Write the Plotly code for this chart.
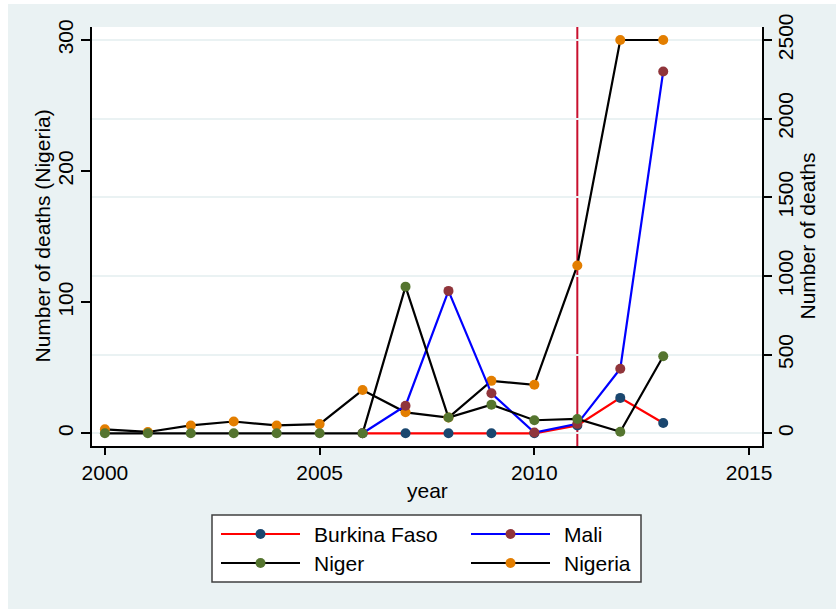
import plotly.graph_objects as go

# Annual conflict deaths by country
years = list(range(2000, 2014))
years_bf_mali = list(range(2006, 2014))

nigeria = [3, 1, 6, 9, 6, 7, 33, 16, 12, 40, 37, 128, 300, 300]          # left axis
niger = [0, 0, 0, 0, 0, 0, 0, 932, 100, 182, 83, 91, 10, 490]             # right axis
mali = [0, 175, 905, 254, 5, 60, 410, 2300]                               # right axis
burkina_faso = [0, 0, 0, 0, 0, 50, 225, 65]                               # right axis

left_ticks = [0, 100, 200, 300]
right_ticks = [0, 500, 1000, 1500, 2000, 2500]
x_ticks = [2000, 2005, 2010, 2015]
event_year = 2011

BG = "#EAF2F3"
FONT = "Liberation Sans, Arial, sans-serif"
W, H = 836, 609
PL, PR, PT, PB = 92, 762, 27, 446  # plot-area edges in pixels

series = [
    ("Burkina Faso", years_bf_mali, burkina_faso, "red", "#1A476F", "y2"),
    ("Mali", years_bf_mali, mali, "blue", "#90353B", "y2"),
    ("Niger", years, niger, "black", "#55752F", "y2"),
    ("Nigeria", years, nigeria, "black", "#E37E00", "y"),
]

fig = go.Figure()
for name, xs, ys, lc, mc, ax in series:
    fig.add_trace(go.Scatter(
        x=xs, y=ys, name=name, mode="lines+markers", yaxis=ax,
        line=dict(color=lc, width=2.2),
        marker=dict(color=mc, size=10, line=dict(width=0)),
        showlegend=False,
    ))


def px_x(p):
    return (p - PL) / (PR - PL)


def px_y(p):
    return (PB - p) / (PB - PT)


shapes = [
    # outer grey panel
    dict(type="rect", xref="paper", yref="paper", layer="below",
         x0=px_x(8), x1=px_x(W + 5), y0=px_y(H + 5), y1=px_y(4),
         fillcolor=BG, line=dict(width=0)),
    # white plot region
    dict(type="rect", xref="paper", yref="paper", layer="below",
         x0=0, x1=1, y0=0, y1=1, fillcolor="white", line=dict(width=0)),
    # event marker
    dict(type="line", xref="x", yref="paper", x0=event_year, x1=event_year,
         y0=0, y1=1, line=dict(color="#C8102E", width=2), layer="between"),
]

annotations = [
    dict(text="year", xref="paper", yref="paper", x=px_x(427), y=px_y(490),
         xanchor="center", yanchor="middle", showarrow=False,
         font=dict(size=21, color="black", family=FONT)),
    dict(text="Number of deaths (Nigeria)", xref="paper", yref="paper",
         x=px_x(42), y=0.5, xanchor="center", yanchor="middle",
         textangle=-90, showarrow=False,
         font=dict(size=21, color="black", family=FONT)),
    dict(text="Number of deaths", xref="paper", yref="paper",
         x=px_x(807), y=0.5, xanchor="center", yanchor="middle",
         textangle=-90, showarrow=False,
         font=dict(size=21, color="black", family=FONT)),
]

# legend drawn as a boxed 2x2 key
lx0, lx1, ly0, ly1 = 212, 641, 515, 582
shapes.append(dict(type="rect", xref="paper", yref="paper",
                   x0=px_x(lx0), x1=px_x(lx1), y0=px_y(ly1), y1=px_y(ly0),
                   fillcolor="white", line=dict(color="#404040", width=1.5)))
slots = [(221, 534), (471, 534), (221, 563), (471, 563)]
for (name, _, _, lc, mc, _), (sx, sy) in zip(series, slots):
    shapes.append(dict(type="line", xref="paper", yref="paper",
                       x0=px_x(sx), x1=px_x(sx + 79), y0=px_y(sy), y1=px_y(sy),
                       line=dict(color=lc, width=2.2)))
    shapes.append(dict(type="circle", xref="paper", yref="paper",
                       x0=px_x(sx + 34.5), x1=px_x(sx + 44.5),
                       y0=px_y(sy + 5), y1=px_y(sy - 5),
                       fillcolor=mc, line=dict(width=0)))
    annotations.append(dict(text=name, xref="paper", yref="paper",
                            x=px_x(sx + 91), y=px_y(sy), xanchor="left",
                            yanchor="middle", showarrow=False,
                            font=dict(size=21, color="black", family=FONT)))

left_range = [-9.7, 309.9]
right_range = [v * 25 / 3 for v in left_range]

fig.update_layout(
    width=W, height=H,
    margin=dict(l=PL, r=W - PR, t=PT, b=H - PB),
    paper_bgcolor="white", plot_bgcolor="rgba(0,0,0,0)",
    font=dict(family=FONT, size=21, color="black"),
    shapes=shapes, annotations=annotations,
    xaxis=dict(range=[1999.7, 2015.3], tickvals=x_ticks, showgrid=False,
               zeroline=False, showline=True, linecolor="black", linewidth=1.5,
               ticks="outside", ticklen=7, tickcolor="black", tickwidth=1.5,
               tickfont=dict(size=21)),
    yaxis=dict(range=left_range, tickvals=left_ticks, showgrid=False,
               zeroline=False, showline=True, linecolor="black", linewidth=1.5,
               ticks="outside", ticklen=9, tickcolor="black", tickwidth=1.5,
               tickangle=-90, tickfont=dict(size=21)),
    yaxis2=dict(range=right_range, tickvals=right_ticks, overlaying="y",
                side="right", showgrid=True, gridcolor=BG, gridwidth=1.5,
                zeroline=False, showline=True, linecolor="black", linewidth=1.5,
                ticks="outside", ticklen=8, tickcolor="black", tickwidth=1.5,
                tickangle=-90, tickfont=dict(size=21), ticklabelstandoff=-4),
)

fig.write_html("out.html")
